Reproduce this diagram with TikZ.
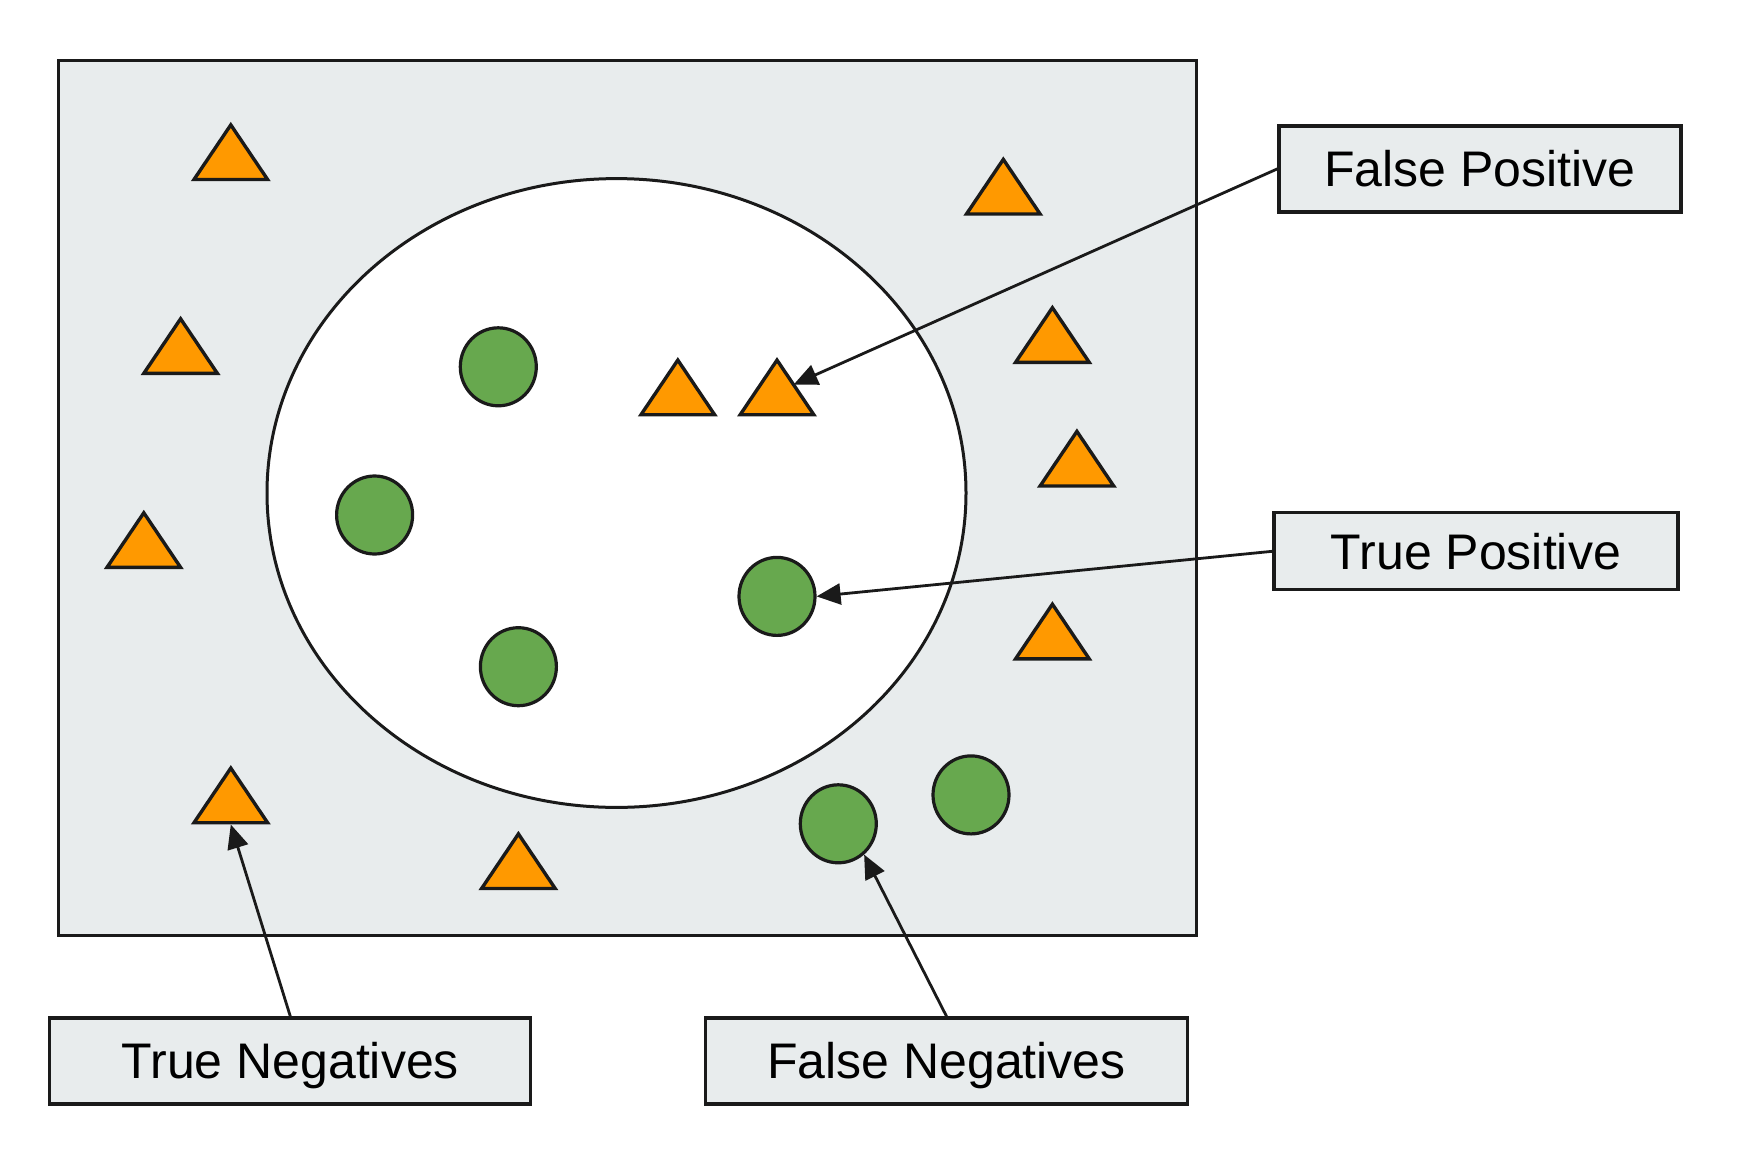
\documentclass[tikz,border=0pt]{standalone}
\usepackage{fontspec}
\setmainfont{Liberation Sans}
\usetikzlibrary{arrows.meta,shapes.geometric}
\definecolor{panelgrey}{HTML}{E8ECED}
\definecolor{triorange}{HTML}{FF9900}
\definecolor{dotgreen}{HTML}{67A84E}
\definecolor{inkdark}{HTML}{1A1A1A}
\tikzset{
  label box/.style={draw=inkdark, line width=3.2pt, fill=panelgrey, rectangle,
    inner sep=0pt, text height=36pt, text depth=0pt,
    font=\fontsize{50}{60}\selectfont},
  dot/.style={draw=inkdark, line width=3.2pt, fill=dotgreen, ellipse,
    minimum width=76pt, minimum height=78pt, inner sep=0pt},
  tri/.style={draw=inkdark, line width=3.4pt, fill=triorange, line join=miter},
  pointer/.style={draw=inkdark, line width=2.8pt,
    -{Triangle[length=24pt,width=21pt]}},
}
\begin{document}
\begin{tikzpicture}[x=1pt,y=-1pt]
\useasboundingbox (0,0) rectangle (1748,1175);
% sample space and the selected region
\draw[draw=inkdark, line width=3pt, fill=panelgrey] (58,60) rectangle (1196,935);
\draw[draw=inkdark, line width=3pt, fill=white] (616.5,493) ellipse [x radius=349.5, y radius=314.4];
% negatives (triangles), given by apex position
\foreach \x/\y in {230.8/124.9, 180.6/318.8, 143.8/512.8, 230.8/768.1, 518.4/833.9,
                   677.8/360.1, 777.0/360.1, 1003.3/159.4, 1052.4/307.7,
                   1076.9/431.4, 1052.4/604.2}
  \draw[tri] (\x,\y) -- ++(36.8,54.6) -- ++(-73.6,0) -- cycle;
\coordinate (fpTarget) at (793.6,384.6);
\coordinate (tnTarget) at (230.8,824.5);
% positives (circles)
\node[dot] (c1) at (498.3,366.8) {};
\node[dot] (c2) at (374.6,515.0) {};
\node[dot] (c3) at (518.4,666.7) {};
\node[dot] (c4) at (777.0,596.4) {};
\node[dot] (c5) at (838.3,823.8) {};
\node[dot] (c6) at (971.0,794.9) {};
% labels
\node[label box, minimum width=402pt, minimum height=86pt] (fp) at (1479.9,168.9) {False Positive};
\node[label box, minimum width=404pt, minimum height=77pt] (tp) at (1475.9,551.3) {True Positive};
\node[label box, minimum width=481pt, minimum height=86pt] (tn) at (290.3,1060.9) {True Negatives};
\node[label box, minimum width=482pt, minimum height=86pt] (fn) at (946.5,1060.9) {False Negatives};
% pointers
\draw[pointer] (fp.west) -- (fpTarget);
\draw[pointer] (tp.west) -- (c4.east);
\draw[pointer] (tn.north) -- (tnTarget);
\draw[pointer] (fn.north) -- (c5.-50);
\end{tikzpicture}
\end{document}
